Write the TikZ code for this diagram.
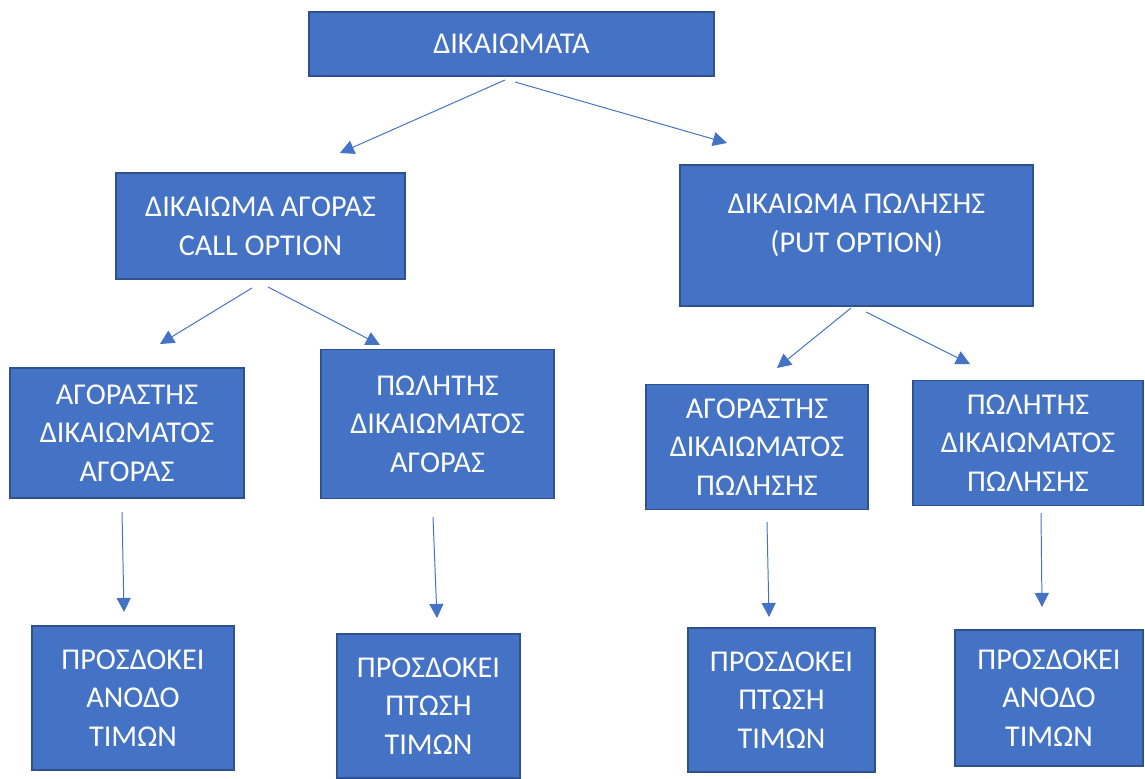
\documentclass[tikz,border=0pt]{standalone}
\usepackage{fontspec}
\setmainfont{Carlito}
\definecolor{opt_fill}{RGB}{68, 114, 196}
\definecolor{opt_edge}{RGB}{47, 82, 143}
\definecolor{opt_arrow}{RGB}{68, 114, 196}
\usetikzlibrary{arrows.meta, positioning}

\begin{document}
\begin{tikzpicture}[x=0.025cm, y=-0.025cm,
        boite/.style={draw=opt_edge, fill=opt_fill, line width=0.9pt,
              text=white, align=center, inner sep=0pt,
              font=\fontsize{21.5}{27.5}\selectfont},
        fleche/.style={-{Triangle[length=10pt, width=10pt]}, line width=0.7pt,
              opt_arrow}]
        \useasboundingbox (0,0) rectangle (1145,778);
        % niveau 1
        \node[boite, minimum width=10.125cm, minimum height=1.6cm]
              (dik) at (511.5,44) {ΔΙΚΑΙΩΜΑΤΑ};
        % niveau 2
        \node[boite, minimum width=7.225cm, minimum height=2.65cm]
              (call) at (260.5,226) {ΔΙΚΑΙΩΜΑ ΑΓΟΡΑΣ\\CALL OPTION};
        \node[boite, minimum width=8.825cm, minimum height=3.525cm]
              (put) at (856.5,235.5) {};
        \node[boite, draw=none, fill=none]
              (puttxt) at (856.5,225) {ΔΙΚΑΙΩΜΑ ΠΩΛΗΣΗΣ\\(PUT OPTION)};
        % niveau 3
        \node[boite, minimum width=5.85cm, minimum height=3.25cm]
              (cagor) at (127,433) {ΑΓΟΡΑΣΤΗΣ\\ΔΙΚΑΙΩΜΑΤΟΣ\\ΑΓΟΡΑΣ};
        \node[boite, minimum width=5.825cm, minimum height=3.725cm]
              (cpol) at (437.5,424) {ΠΩΛΗΤΗΣ\\ΔΙΚΑΙΩΜΑΤΟΣ\\ΑΓΟΡΑΣ};
        \node[boite, minimum width=5.55cm, minimum height=3.125cm]
              (pagor) at (757,447) {ΑΓΟΡΑΣΤΗΣ\\ΔΙΚΑΙΩΜΑΤΟΣ\\ΠΩΛΗΣΗΣ};
        \node[boite, minimum width=5.75cm, minimum height=3.125cm]
              (ppol) at (1028,443) {ΠΩΛΗΤΗΣ\\ΔΙΚΑΙΩΜΑΤΟΣ\\ΠΩΛΗΣΗΣ};
        % niveau 4
        \node[boite, minimum width=5.05cm, minimum height=3.6cm]
              (anodo1) at (133,698) {ΠΡΟΣΔΟΚΕΙ\\ΑΝΟΔΟ\\ΤΙΜΩΝ};
        \node[boite, minimum width=4.575cm, minimum height=3.6cm]
              (ptosi1) at (428.5,706) {ΠΡΟΣΔΟΚΕΙ\\ΠΤΩΣΗ\\ΤΙΜΩΝ};
        \node[boite, minimum width=4.675cm, minimum height=3.6cm]
              (ptosi2) at (781.5,700) {ΠΡΟΣΔΟΚΕΙ\\ΠΤΩΣΗ\\ΤΙΜΩΝ};
        \node[boite, minimum width=4.7cm, minimum height=3.4cm]
              (anodo2) at (1049,698) {ΠΡΟΣΔΟΚΕΙ\\ΑΝΟΔΟ\\ΤΙΜΩΝ};
        % extremites des fleches
        \coordinate (d1) at (505,80);   \coordinate (a1) at (340,153);
        \coordinate (d2) at (515,82);   \coordinate (a2) at (727,143);
        \coordinate (d3) at (252,288);  \coordinate (a3) at (160,344);
        \coordinate (d4) at (268,287);  \coordinate (a4) at (380,345);
        \coordinate (d5) at (851,308);  \coordinate (a5) at (777,368);
        \coordinate (d6) at (866,312);  \coordinate (a6) at (970,364);
        \coordinate (d7) at (122,512);  \coordinate (a7) at (124,612);
        \coordinate (d8) at (433,517);  \coordinate (a8) at (437,618);
        \coordinate (d9) at (767,522);  \coordinate (a9) at (769,617);
        \coordinate (d10) at (1041,513); \coordinate (a10) at (1042,607);
        \foreach \i in {1,...,10}
            \draw[fleche] (d\i) -- (a\i);
      \end{tikzpicture}
\end{document}
